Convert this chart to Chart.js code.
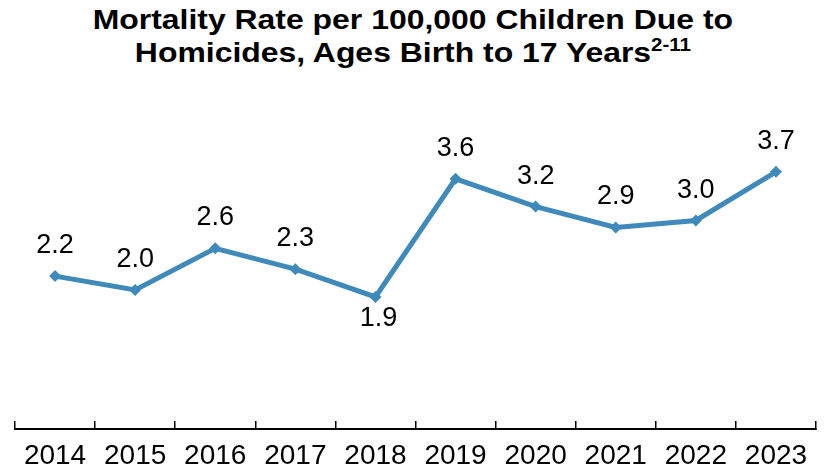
<!DOCTYPE html>
<html>
<head>
<meta charset="utf-8">
<script src="https://cdn.jsdelivr.net/npm/chart.js@4.4.1/dist/chart.umd.min.js"></script>
<style>
  html, body { margin: 0; padding: 0; background: #fff; }
  #wrap { position: relative; width: 825px; height: 474px; }
  #title {
    position: absolute; left: 0; top: 3px; width: 825px;
    text-align: center; font-family: "Liberation Sans", Arial, sans-serif;
    font-weight: bold; font-size: 28px; line-height: 33px; color: #000;
  }
  #title .line { display: inline-block; transform: scaleX(1.14); transform-origin: center; white-space: nowrap; }
  #title sup { font-size: 18px; line-height: 0; vertical-align: 0; position: relative; top: -11px; }
  canvas { position: absolute; left: 0; top: 0; }
</style>
</head>
<body>
<div id="wrap">
  <div id="title"><span class="line">Mortality Rate per 100,000 Children Due to</span><br><span class="line">Homicides, Ages Birth to 17 Years<sup>2-11</sup></span></div>
  <canvas id="chart" width="825" height="474"></canvas>
</div>
<script>
// Homicide mortality rate per 100,000 children, by year
const years = ['2014', '2015', '2016', '2017', '2018', '2019', '2020', '2021', '2022', '2023'];
const rates = [2.2, 2.0, 2.6, 2.3, 1.9, 3.6, 3.2, 2.9, 3.0, 3.7];
// Points whose value label sits under the marker instead of above it
const labelsBelow = ['2018'];

const lineColor = '#3f8abb';

// Value labels written next to each marker
const valueLabels = {
  id: 'valueLabels',
  afterDatasetsDraw(chart) {
    const ctx = chart.ctx;
    const meta = chart.getDatasetMeta(0);
    ctx.save();
    ctx.font = '27px "Liberation Sans", Arial, sans-serif';
    ctx.fillStyle = '#000';
    ctx.textAlign = 'center';
    meta.data.forEach((pt, i) => {
      const below = labelsBelow.includes(years[i]);
      const text = rates[i].toFixed(1);
      if (below) {
        ctx.textBaseline = 'top';
        ctx.fillText(text, pt.x + 3, pt.y + 8);
      } else {
        ctx.textBaseline = 'alphabetic';
        ctx.fillText(text, pt.x, pt.y - 23);
      }
    });
    ctx.restore();
  }
};

new Chart(document.getElementById('chart'), {
  type: 'line',
  data: {
    labels: years,
    datasets: [{
      data: rates,
      borderColor: lineColor,
      backgroundColor: lineColor,
      borderWidth: 5,
      pointStyle: 'rectRot',
      pointRadius: 6,
      pointHoverRadius: 6,
      pointBorderWidth: 0,
      tension: 0,
      clip: false
    }]
  },
  options: {
    responsive: false,
    animation: false,
    events: [],
    layout: { padding: { top: 151, left: 15, right: 9, bottom: 0 } },
    plugins: {
      legend: { display: false },
      title: { display: false },
      tooltip: { enabled: false }
    },
    scales: {
      x: {
        offset: true,
        afterFit(scale) {
          scale.height = 45;
          scale.paddingLeft = 0;
          scale.paddingRight = 0;
        },
        grid: {
          display: true,
          offset: true,
          drawOnChartArea: false,
          drawTicks: true,
          tickLength: -8,
          color: '#000',
          lineWidth: 1.5
        },
        border: { display: true, color: '#000', width: 2 },
        ticks: {
          color: '#000',
          padding: 18,
          maxRotation: 0,
          autoSkip: false,
          font: { family: '"Liberation Sans", Arial, sans-serif', size: 28 }
        }
      },
      y: {
        display: false,
        min: 0,
        max: 4
      }
    }
  },
  plugins: [valueLabels]
});
</script>
</body>
</html>
